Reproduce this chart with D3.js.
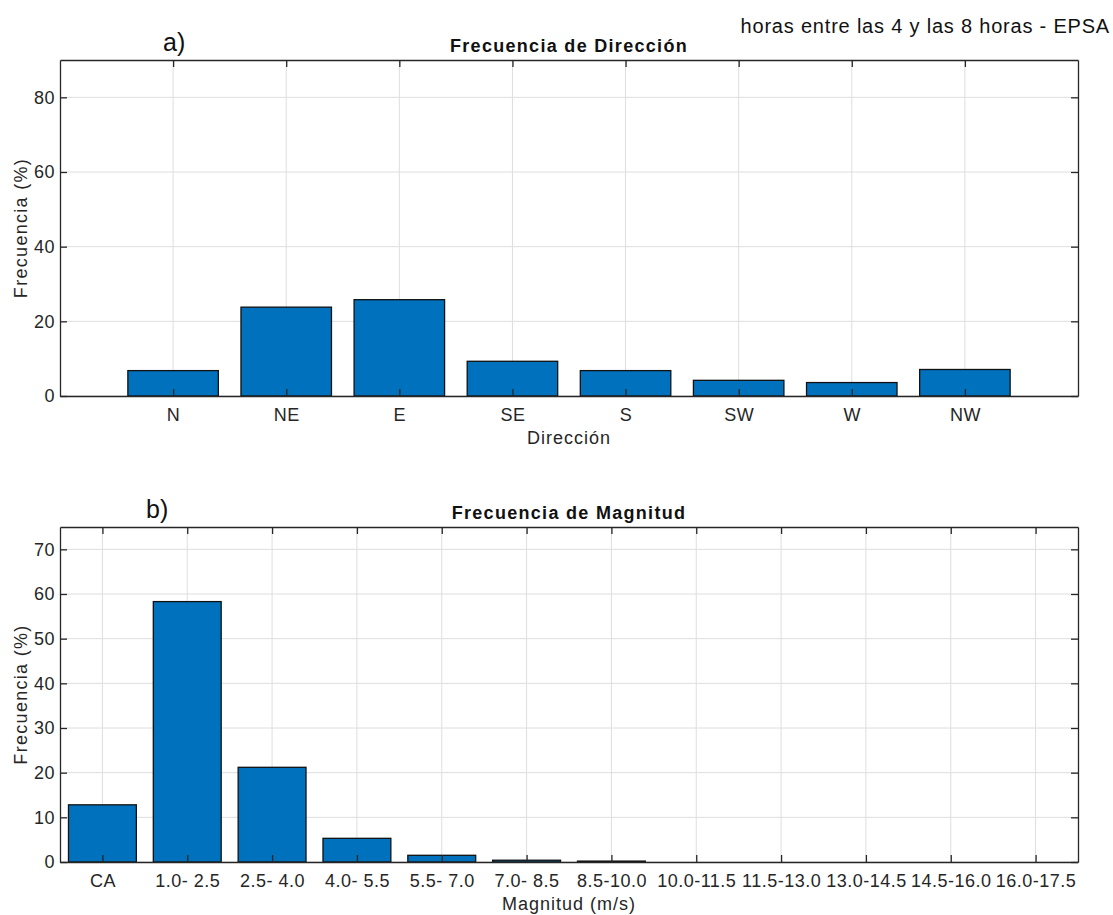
<!DOCTYPE html>
<html>
<head>
<meta charset="utf-8">
<script src="https://cdn.jsdelivr.net/npm/d3@7"></script>
<style>
  body { margin: 0; background: #fff; }
  svg { font-family: "Liberation Sans", Arial, sans-serif; }
  .tick text { fill: #262626; }
</style>
</head>
<body>
<svg id="chart" width="1113" height="915"></svg>
<script>
// direction frequencies (%)
var dirCats = ["N", "NE", "E", "SE", "S", "SW", "W", "NW"];
var dirVals = [6.8, 23.8, 25.8, 9.3, 6.8, 4.2, 3.6, 7.1];
var dirTicks = [0, 20, 40, 60, 80];

// magnitude frequencies (%)
var magCats = ["CA", "1.0- 2.5", "2.5- 4.0", "4.0- 5.5", "5.5- 7.0", "7.0- 8.5", "8.5-10.0",
               "10.0-11.5", "11.5-13.0", "13.0-14.5", "14.5-16.0", "16.0-17.5"];
var magVals = [12.8, 58.3, 21.2, 5.3, 1.5, 0.4, 0.2, 0, 0, 0, 0, 0];
var magTicks = [0, 10, 20, 30, 40, 50, 60, 70];

var svg = d3.select("#chart");
var barColor = "#0072BD", axisColor = "#262626", gridColor = "#dedede";

svg.append("text")
  .attr("x", 1110).attr("y", 33)
  .attr("text-anchor", "end")
  .attr("font-size", 20).attr("letter-spacing", 0.8).attr("fill", "#111")
  .text("horas entre las 4 y las 8 horas - EPSA");

function drawPanel(opt) {
  var left = 60, right = 1078, top = opt.top, bottom = opt.bottom;
  var n = opt.cats.length;

  // numeric x like MATLAB: categories at 1..n
  var x = d3.scaleLinear().domain(opt.xdom).range([left, right]);
  var y = d3.scaleLinear().domain([0, opt.ymax]).range([bottom, top]);
  var idx = d3.range(1, n + 1);
  var bw = x(1.8) - x(1);

  var g = svg.append("g");

  // grid
  g.selectAll(".gx").data(idx).enter().append("line")
    .attr("x1", function(d) { return x(d); }).attr("x2", function(d) { return x(d); })
    .attr("y1", top).attr("y2", bottom)
    .attr("stroke", gridColor).attr("stroke-width", 1);
  g.selectAll(".gy").data(opt.yticks).enter().append("line")
    .attr("x1", left).attr("x2", right)
    .attr("y1", function(d) { return y(d); }).attr("y2", function(d) { return y(d); })
    .attr("stroke", gridColor).attr("stroke-width", 1);

  // bars
  g.selectAll(".bar").data(opt.vals).enter().append("rect")
    .attr("x", function(d, i) { return x(i + 1) - bw / 2; })
    .attr("y", function(d) { return y(d); })
    .attr("width", bw)
    .attr("height", function(d) { return y(0) - y(d); })
    .attr("fill", barColor)
    .attr("stroke", "#111").attr("stroke-width", 1.3);

  // axes
  var xb = d3.axisBottom(x).tickValues(idx)
    .tickFormat(function(d) { return opt.cats[d - 1]; })
    .tickSizeInner(-7).tickSizeOuter(0).tickPadding(12);
  var xt = d3.axisTop(x).tickValues(idx).tickFormat("")
    .tickSizeInner(-7).tickSizeOuter(0);
  var yl = d3.axisLeft(y).tickValues(opt.yticks)
    .tickSizeInner(-7).tickSizeOuter(0).tickPadding(5);
  var yr = d3.axisRight(y).tickValues(opt.yticks).tickFormat("")
    .tickSizeInner(-7).tickSizeOuter(0);

  function style(sel) {
    sel.select(".domain").attr("stroke", axisColor).attr("stroke-width", 1.3);
    sel.selectAll(".tick line").attr("stroke", axisColor).attr("stroke-width", 1.3);
    sel.selectAll(".tick text").attr("font-size", 18).attr("letter-spacing", 0.5)
      .attr("font-family", "Liberation Sans, Arial, sans-serif");
  }
  g.append("g").attr("transform", "translate(0," + bottom + ")").call(xb).call(style);
  g.append("g").attr("transform", "translate(0," + top + ")").call(xt).call(style);
  g.append("g").attr("transform", "translate(" + left + ",0)").call(yl).call(style);
  g.append("g").attr("transform", "translate(" + right + ",0)").call(yr).call(style);

  // labels
  g.append("text")
    .attr("x", (left + right) / 2).attr("y", bottom + 48)
    .attr("text-anchor", "middle").attr("font-size", 18).attr("letter-spacing", 1)
    .attr("fill", axisColor)
    .text(opt.xlabel);
  g.append("text")
    .attr("transform", "translate(27," + ((top + bottom) / 2) + ") rotate(-90)")
    .attr("text-anchor", "middle").attr("font-size", 18).attr("letter-spacing", 1.3)
    .attr("fill", axisColor)
    .text("Frecuencia (%)");
  g.append("text")
    .attr("x", (left + right) / 2).attr("y", top - 8)
    .attr("text-anchor", "middle").attr("font-size", 18).attr("font-weight", "bold")
    .attr("letter-spacing", 1.3).attr("fill", "#111")
    .text(opt.title);
  g.append("text")
    .attr("x", opt.tagX).attr("y", top - 9)
    .attr("font-size", 25).attr("fill", "#111")
    .text(opt.tag);
}

drawPanel({
  cats: dirCats, vals: dirVals, yticks: dirTicks, ymax: 90,
  xdom: [0, 9], top: 60, bottom: 396,
  xlabel: "Dirección", title: "Frecuencia de Dirección", tag: "a)", tagX: 163
});

drawPanel({
  cats: magCats, vals: magVals, yticks: magTicks, ymax: 75,
  xdom: [0.5, 12.5], top: 527, bottom: 862,
  xlabel: "Magnitud (m/s)", title: "Frecuencia de Magnitud", tag: "b)", tagX: 146
});
</script>
</body>
</html>
